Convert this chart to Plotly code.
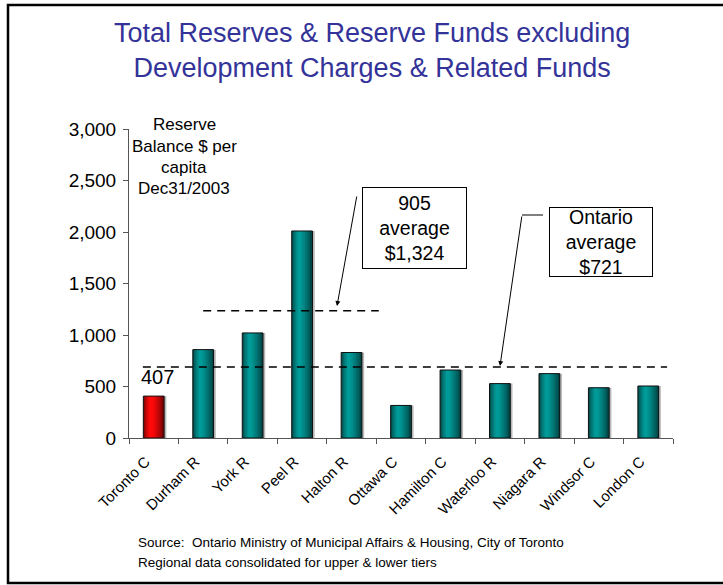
import plotly.graph_objects as go

# ---------------- data ----------------
categories = ["Toronto C", "Durham R", "York R", "Peel R", "Halton R", "Ottawa C",
              "Hamilton C", "Waterloo R", "Niagara R", "Windsor C", "London C"]
reserve_per_capita = [407, 858, 1020, 2010, 830, 316, 660, 528, 625, 488, 505]
highlight = ["Toronto C"]

avg_labels = ["905<br>average<br>$1,324", "Ontario<br>average<br>$721"]
avg_line_levels = [1235, 690]          # where the dashed lines are drawn in the picture
avg_line_spans = [(1.0, 4.55), (-0.22, 10.38)]  # category-index spans of the dashed lines

y_ticks = [0, 500, 1000, 1500, 2000, 2500, 3000]

title_text = "Total Reserves & Reserve Funds excluding<br>Development Charges & Related Funds"
ylabel_lines = ["Reserve", "Balance $ per", "capita", "Dec31/2003"]
source_lines = ["Source:  Ontario Ministry of Municipal Affairs & Housing, City of Toronto",
                "Regional data consolidated for upper & lower tiers"]

# ---------------- geometry ----------------
W, H = 723, 585
L, R, T, B = 129, 673, 129, 438
PW, PH = R - L, B - T


def px(x):
    return (x - L) / PW


def py(y):
    return (B - y) / PH


FONT = "Liberation Sans, Arial, sans-serif"

# ---------------- bars (cylinder-like shading via stripes) ----------------
bar_w = 0.42
n_str = 14
teal = (0, 152, 150)
red = (255, 10, 10)


def shade(rgb, t):
    # brightness profile across the bar: dark edges, highlight at ~35 %
    if t < 0.35:
        f = 0.35 + 0.7 * (t / 0.35) ** 0.6
    else:
        f = 1.05 - 0.62 * ((t - 0.35) / 0.65) ** 1.3
    c = [max(0, min(255, int(v * f))) for v in rgb]
    return "rgb(%d,%d,%d)" % tuple(c)


fig = go.Figure()

# soft shadow
fig.add_trace(go.Bar(x=categories, y=reserve_per_capita, width=bar_w,
                     offset=-bar_w / 2 + 0.045, marker=dict(color="#b8b8b8", line=dict(width=0)),
                     hoverinfo="skip", showlegend=False))

sw = bar_w / n_str
for i in range(n_str):
    t = (i + 0.5) / n_str
    cols = [shade(red if c in highlight else teal, t) for c in categories]
    fig.add_trace(go.Bar(x=categories, y=reserve_per_capita,
                         width=sw * 1.6 if i < n_str - 1 else sw,
                         offset=-bar_w / 2 + i * sw,
                         marker=dict(color=cols, line=dict(width=0)),
                         hoverinfo="skip", showlegend=False))

# outline
fig.add_trace(go.Bar(x=categories, y=reserve_per_capita, width=bar_w, offset=-bar_w / 2,
                     marker=dict(color="rgba(0,0,0,0)", line=dict(width=1, color="#111")),
                     hovertemplate="%{x}: %{y}<extra></extra>", showlegend=False))

fig.update_layout(
    barmode="overlay",
    width=W, height=H,
    margin=dict(l=L, r=W - R, t=T, b=H - B, pad=0),
    paper_bgcolor="white", plot_bgcolor="white",
    font=dict(family=FONT, color="black"),
    xaxis=dict(type="category", showline=True, linecolor="#555", linewidth=1,
               ticks="outside", ticklen=5, tickcolor="#555", tickson="boundaries",
               tickangle=-45, tickfont=dict(size=15, family=FONT), showgrid=False,
               ticklabelstandoff=8, ticklabelshift=-8,
               range=[-0.5, len(categories) - 0.5], fixedrange=True),
    yaxis=dict(range=[0, 3000], tickvals=y_ticks, tickformat=",", showline=True,
               linecolor="#555", linewidth=1, ticks="outside", ticklen=5, tickcolor="#555",
               tickfont=dict(size=19, family=FONT), showgrid=False, zeroline=False,
               ticklabelstandoff=3, fixedrange=True),
    showlegend=False,
)

shapes = []
# dashed average lines
for lvl, (x0, x1) in zip(avg_line_levels, avg_line_spans):
    shapes.append(dict(type="line", xref="x", yref="y", x0=x0, x1=x1, y0=lvl, y1=lvl,
                       line=dict(color="black", width=1.5, dash="8px,6px")))
# elbow of Ontario arrow
shapes.append(dict(type="line", xref="paper", yref="paper", x0=px(543), x1=px(522),
                   y0=py(215), y1=py(215), line=dict(color="black", width=1)))
# outer frame
shapes.append(dict(type="rect", xref="paper", yref="paper", x0=px(8), x1=px(727),
                   y0=py(583), y1=py(5), line=dict(color="black", width=2.5),
                   fillcolor="rgba(0,0,0,0)", layer="below"))
fig.update_layout(shapes=shapes)

ann = []
# title
ann.append(dict(text=title_text, xref="paper", yref="paper", x=px(372), y=py(50),
                xanchor="center", yanchor="middle", showarrow=False,
                font=dict(size=27, color="#333399", family=FONT)))
# y label lines
for txt, yy in zip(ylabel_lines, [125, 146, 167, 188]):
    ann.append(dict(text=txt, xref="paper", yref="paper", x=px(184), y=py(yy),
                    xanchor="center", yanchor="middle", showarrow=False,
                    font=dict(size=17, family=FONT)))
# value label for Toronto
ann.append(dict(text=str(reserve_per_capita[0]), xref="x", yref="y", x=categories[0],
                y=reserve_per_capita[0], yanchor="bottom", xanchor="center", xshift=4, yshift=6,
                showarrow=False, font=dict(size=20, family=FONT)))
# average boxes
ann.append(dict(text=avg_labels[0], xref="paper", yref="paper", x=px(414.5), y=py(228),
                xanchor="center", yanchor="middle", showarrow=False, width=101, height=78,
                bordercolor="black", borderwidth=1, borderpad=1, bgcolor="white",
                font=dict(size=19.5, family=FONT)))
ann.append(dict(text=avg_labels[1], xref="paper", yref="paper", x=px(601), y=py(242),
                xanchor="center", yanchor="middle", showarrow=False, width=100, height=66,
                bordercolor="black", borderwidth=1, borderpad=1, bgcolor="white",
                font=dict(size=19.5, family=FONT)))
# arrows
ann.append(dict(text="", xref="paper", yref="paper", x=px(337), y=py(306),
                ax=20, ay=-111, showarrow=True, arrowhead=2, arrowsize=1, arrowwidth=1,
                arrowcolor="black"))
ann.append(dict(text="", xref="paper", yref="paper", x=px(500), y=py(366),
                ax=22, ay=-151, showarrow=True, arrowhead=2, arrowsize=1, arrowwidth=1,
                arrowcolor="black"))
# source
for txt, yy in zip(source_lines, [542, 562]):
    ann.append(dict(text=txt, xref="paper", yref="paper", x=px(136), y=py(yy),
                    xanchor="left", yanchor="middle", showarrow=False,
                    font=dict(size=13.5, family=FONT)))
fig.update_layout(annotations=ann)

fig.write_html("out.html")
